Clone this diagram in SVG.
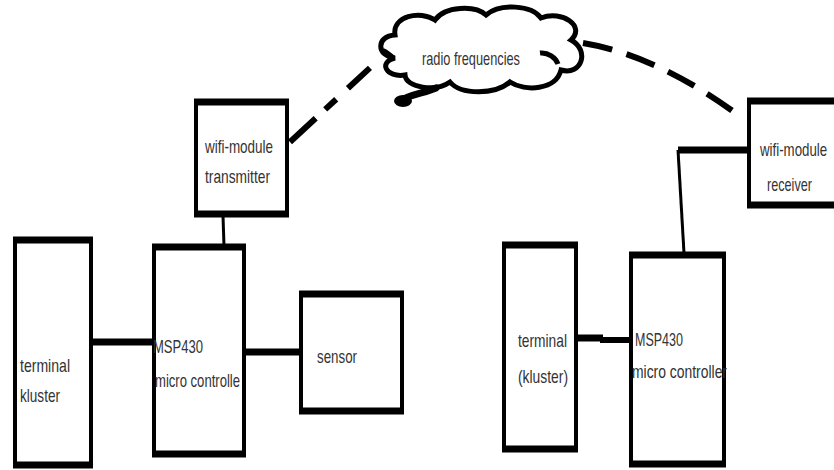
<svg xmlns="http://www.w3.org/2000/svg" width="834" height="470" viewBox="0 0 834 470">
<style>
.box{fill:#fff;stroke:#000;stroke-width:4}
.edge{stroke:#000;stroke-width:7;fill:none}
.t{font-family:"Liberation Sans",Arial,sans-serif;font-size:19px;fill:#333}
.thick{stroke:#000;stroke-width:7;fill:none}
.thin{stroke:#000;stroke-width:3;fill:none}
.dash{stroke:#000;stroke-width:6;fill:none}
</style>
<rect width="834" height="470" fill="#fff"/>
<g id="connectors">
<line class="thin" x1="223" y1="216" x2="224" y2="246"/>
<line class="thick" x1="90" y1="342" x2="155" y2="342"/>
<line class="thick" x1="245" y1="352" x2="301" y2="352"/>
<line class="thick" x1="577" y1="338" x2="603" y2="338"/>
<line stroke="#000" stroke-width="6" x1="600" y1="340" x2="631" y2="340"/>
<line class="thick" x1="678" y1="150" x2="748" y2="150"/>
<line class="thin" x1="678" y1="150" x2="684" y2="253"/>
<path class="dash" d="M290,142 L372,66" stroke-dasharray="35 13 15 16 30"/>
<path class="dash" d="M583,43 Q655,55 734,112" stroke-dasharray="30 15"/>
</g>
<g id="cloud">
<path d="M395,58 C376,56 376,36 395,35 C392,16 420,10 435,20 C445,6 475,5 486,15 C500,3 532,5 541,18 C562,10 586,26 571,40 C590,50 582,76 561,70 C556,90 525,92 510,82 C495,95 461,95 450,82 C436,92 406,88 405,75 C386,78 378,62 395,58 Z" fill="#fff" stroke="#000" stroke-width="5"/>
<path d="M383,50 C388,52 392,56 394,58" fill="none" stroke="#000" stroke-width="4"/>
<path d="M540,53 C548,52 556,58 558,64" fill="none" stroke="#000" stroke-width="5"/>
<path d="M400,101 C410,94 425,93 436,88" fill="none" stroke="#000" stroke-width="7" stroke-linecap="round"/>
<ellipse cx="403" cy="101" rx="9" ry="6" fill="#000"/>
<text class="t" x="422" y="65" textLength="98" lengthAdjust="spacingAndGlyphs">radio frequencies</text>
</g>
<g id="wifi-transmitter">
<rect class="box" x="196" y="101" width="91" height="114"/>
<line class="edge" x1="194" y1="102" x2="289" y2="102"/>
<line class="edge" x1="194" y1="214" x2="289" y2="214"/>
<text class="t" x="205" y="153" textLength="68" lengthAdjust="spacingAndGlyphs">wifi-module</text>
<text class="t" x="205" y="183" textLength="65" lengthAdjust="spacingAndGlyphs">transmitter</text>
</g>
<g id="terminal-left">
<rect class="box" x="15" y="239" width="76" height="227"/>
<line class="edge" x1="13" y1="240" x2="93" y2="240"/>
<line class="edge" x1="13" y1="465" x2="93" y2="465"/>
<text class="t" x="20" y="372" textLength="50" lengthAdjust="spacingAndGlyphs">terminal</text>
<text class="t" x="20" y="402" textLength="40" lengthAdjust="spacingAndGlyphs">kluster</text>
</g>
<g id="msp-left">
<rect class="box" x="154" y="246" width="90" height="209"/>
<line class="edge" x1="152" y1="247" x2="246" y2="247"/>
<line class="edge" x1="152" y1="454" x2="246" y2="454"/>
<text class="t" x="153" y="353" textLength="50" lengthAdjust="spacingAndGlyphs">MSP430</text>
<text class="t" x="155" y="387" textLength="85" lengthAdjust="spacingAndGlyphs">micro controlle</text>
</g>
<g id="sensor">
<rect class="box" x="301" y="293" width="101" height="119"/>
<line class="edge" x1="299" y1="294" x2="404" y2="294"/>
<line class="edge" x1="299" y1="411" x2="404" y2="411"/>
<text class="t" x="317" y="363" textLength="40" lengthAdjust="spacingAndGlyphs">sensor</text>
</g>
<g id="wifi-receiver">
<rect class="box" x="749" y="100" width="95" height="106"/>
<line class="edge" x1="747" y1="101" x2="840" y2="101"/>
<line class="edge" x1="747" y1="205" x2="840" y2="205"/>
<text class="t" transform="translate(760,156) scale(0.7,1)">wifi-module</text>
<text class="t" x="767" y="191" textLength="45" lengthAdjust="spacingAndGlyphs">receiver</text>
</g>
<g id="terminal-right">
<rect class="box" x="504" y="244" width="72" height="206"/>
<line class="edge" x1="502" y1="245" x2="578" y2="245"/>
<line class="edge" x1="502" y1="449" x2="578" y2="449"/>
<text class="t" x="518" y="347" textLength="49" lengthAdjust="spacingAndGlyphs">terminal</text>
<text class="t" x="518" y="383" textLength="50" lengthAdjust="spacingAndGlyphs">(kluster)</text>
</g>
<g id="msp-right">
<rect class="box" x="631" y="254" width="93" height="211"/>
<line class="edge" x1="629" y1="255" x2="726" y2="255"/>
<line class="edge" x1="629" y1="464" x2="726" y2="464"/>
<text class="t" x="635" y="346" textLength="48" lengthAdjust="spacingAndGlyphs">MSP430</text>
<text class="t" x="632" y="378" textLength="95" lengthAdjust="spacingAndGlyphs">micro controller</text>
</g>
</svg>
